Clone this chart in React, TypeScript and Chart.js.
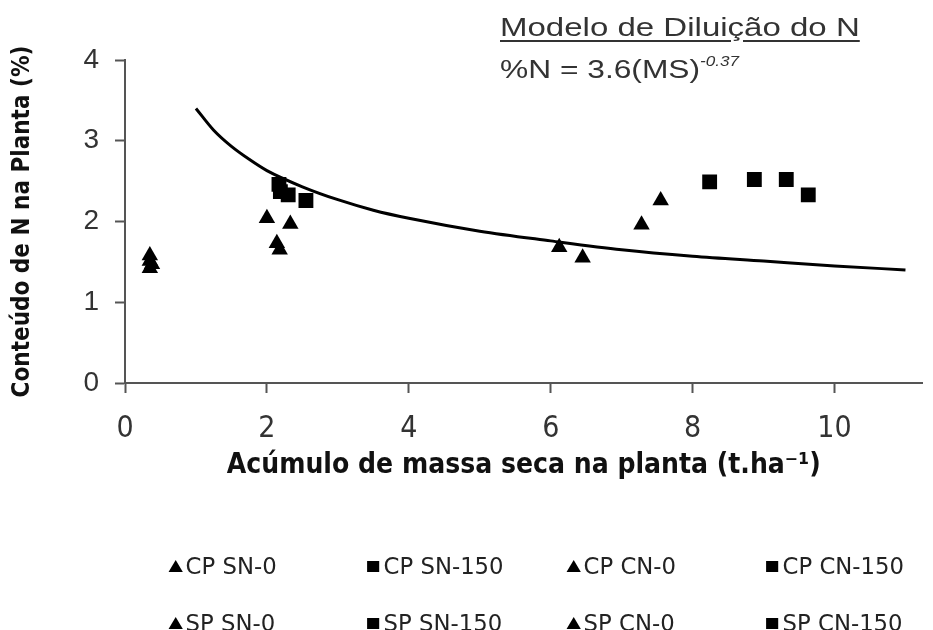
import React, { useEffect, useRef } from "react";
import { Chart, registerables } from "chart.js";

Chart.register(...registerables);

// Dilution curve (as drawn in the figure)
const curveX = [1, 1.25, 1.5, 1.75, 2, 2.5, 3, 3.5, 4, 5, 6, 7, 8, 9, 10, 11];
const curveY = [3.4, 3.13, 2.93, 2.77, 2.63, 2.43, 2.27, 2.14, 2.04, 1.88, 1.76, 1.65, 1.57, 1.51, 1.45, 1.4];

// Series (x = dry mass t/ha, y = N %)
const seriesNames = ["CP SN-0", "CP SN-150", "CP CN-0", "CP CN-150", "SP SN-0", "SP SN-150", "SP CN-0", "SP CN-150"];
const seriesShapes = ["triangle", "rect", "triangle", "rect", "triangle", "rect", "triangle", "rect"];
const cpsn0X = [0.35, 2.0, 6.12];
const cpsn0Y = [1.58, 2.04, 1.68];
const cpsn150X = [2.17, 8.24];
const cpsn150Y = [2.46, 2.49];
const cpcn0X = [0.35, 2.33, 7.28];
const cpcn0Y = [1.51, 1.97, 1.96];
const cpcn150X = [2.19, 8.87];
const cpcn150Y = [2.37, 2.52];
const spsn0X = [0.35, 2.14, 6.45];
const spsn0Y = [1.42, 1.73, 1.55];
const spsn150X = [2.3, 9.32];
const spsn150Y = [2.33, 2.52];
const spcn0X = [0.38, 2.18, 7.55];
const spcn0Y = [1.47, 1.65, 2.26];
const spcn150X = [2.55, 9.63];
const spcn150Y = [2.26, 2.33];

const seriesX = [cpsn0X, cpsn150X, cpcn0X, cpcn150X, spsn0X, spsn150X, spcn0X, spcn150X];
const seriesY = [cpsn0Y, cpsn150Y, cpcn0Y, cpcn150Y, spsn0Y, spsn150Y, spcn0Y, spcn150Y];

const xTicks = [0, 2, 4, 6, 8, 10];
const yTicks = [0, 1, 2, 3, 4];

const NARROW = "'Liberation Sans Narrow', 'DejaVu Sans Condensed', 'Liberation Sans', sans-serif";
const SANS = "'Liberation Sans', Arial, sans-serif";
const AXIS = "#555555";

const legendLeft = [168, 366, 566, 765];
const legendTop = [551, 608];

function Marker({ shape }: { shape: string }) {
  return (
    <svg width={14} height={14} style={{ display: "inline-block", verticalAlign: "middle" }}>
      {shape === "triangle" ? (
        <polygon points="7,1 13.5,13 0.5,13" fill="#000" />
      ) : (
        <rect x={1} y={2} width={11} height={11} fill="#000" />
      )}
    </svg>
  );
}

export default function App() {
  const ref = useRef<HTMLCanvasElement | null>(null);

  useEffect(() => {
    if (!ref.current) return;
    const datasets: any[] = seriesNames.map((name, i) => ({
      type: "scatter",
      label: name,
      data: seriesX[i].map((x, k) => ({ x, y: seriesY[i][k] })),
      pointStyle: seriesShapes[i],
      pointRadius: seriesShapes[i] === "triangle" ? 9.5 : 10.5,
      backgroundColor: "#000",
      borderColor: "#000",
      borderWidth: 0,
    }));
    datasets.push({
      type: "line",
      label: "curve",
      data: curveX.map((x, k) => ({ x, y: curveY[k] })),
      borderColor: "#000",
      borderWidth: 3,
      pointRadius: 0,
      fill: false,
      cubicInterpolationMode: "monotone",
    });

    const chart = new Chart(ref.current, {
      type: "scatter",
      data: { datasets },
      options: {
        animation: false,
        responsive: false,
        devicePixelRatio: 1,
        layout: { padding: { left: 0, top: 60, right: 0, bottom: 147 } },
        plugins: { legend: { display: false }, tooltip: { enabled: false } },
        scales: {
          x: {
            type: "linear",
            min: 0,
            max: 11.24,
            afterFit: (s: any) => {
              s.height = 100;
            },
            afterBuildTicks: (s: any) => {
              s.ticks = xTicks.map((v) => ({ value: v }));
            },
            ticks: {
              includeBounds: false,
              color: "#333",
              font: { family: NARROW, size: 30 },
              padding: 18,
              maxRotation: 0,
            },
            grid: { drawOnChartArea: false, drawTicks: true, tickLength: 10, tickWidth: 2, tickColor: AXIS },
            border: { color: AXIS, width: 2 },
            title: {
              display: true,
              text: "Acúmulo de massa seca na planta (t.ha⁻¹)",
              color: "#111",
              font: { family: NARROW, size: 28, weight: "bold" },
              padding: { top: 0, bottom: 0 },
            },
          },
          y: {
            type: "linear",
            min: 0,
            max: 4,
            afterFit: (s: any) => {
              s.width = 125;
            },
            afterBuildTicks: (s: any) => {
              s.ticks = yTicks.map((v) => ({ value: v }));
            },
            ticks: {
              color: "#333",
              font: { family: SANS, size: 28 },
              padding: 16,
            },
            grid: { drawOnChartArea: false, drawTicks: true, tickLength: 10, tickWidth: 2, tickColor: AXIS },
            border: { color: AXIS, width: 2 },
            title: {
              display: true,
              text: "Conteúdo de N na Planta (%)",
              color: "#111",
              font: { family: NARROW, size: 24, weight: "bold" },
              padding: { top: 8, bottom: 0 },
            },
          },
        },
      },
    });
    return () => chart.destroy();
  }, []);

  return (
    <div style={{ position: "fixed", left: 0, top: 0, width: 933, height: 630, background: "#fff", overflow: "hidden" }}>
      <canvas ref={ref} width={933} height={630} style={{ position: "absolute", left: 0, top: 0, width: 933, height: 630 }} />
      <div
        style={{
          position: "absolute",
          left: 500,
          top: 12,
          font: `26px ${SANS}`,
          color: "#333",
          textDecoration: "underline",
          textUnderlineOffset: 4,
          whiteSpace: "nowrap",
          transform: "scaleX(1.27)",
          transformOrigin: "left top",
        }}
      >
        Modelo de Diluição do N
      </div>
      <div
        style={{
          position: "absolute",
          left: 500,
          top: 54,
          font: `26px ${SANS}`,
          color: "#333",
          whiteSpace: "nowrap",
          transform: "scaleX(1.22)",
          transformOrigin: "left top",
        }}
      >
        %N = 3.6(MS)
        <span style={{ fontSize: 14, fontStyle: "italic", position: "relative", top: -12 }}>-0.37</span>
      </div>
      {seriesNames.map((name, i) => (
        <div
          key={name}
          style={{
            position: "absolute",
            left: legendLeft[i % 4],
            top: legendTop[Math.floor(i / 4)],
            font: `23px ${NARROW}`,
            color: "#222",
            whiteSpace: "nowrap",
            lineHeight: "26px",
            transform: "scaleX(1.1)",
            transformOrigin: "left top",
          }}
        >
          <Marker shape={seriesShapes[i]} />
          <span style={{ marginLeft: 2, verticalAlign: "middle" }}>{name}</span>
        </div>
      ))}
    </div>
  );
}
